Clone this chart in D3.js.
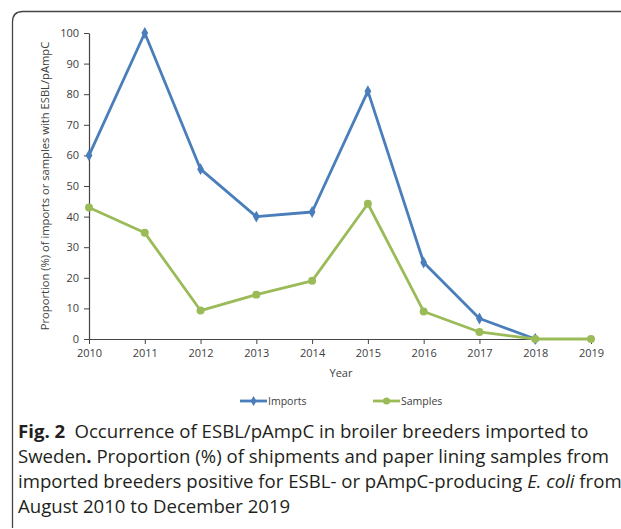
<!DOCTYPE html>
<html>
<head>
<meta charset="utf-8">
<script src="https://cdn.jsdelivr.net/npm/d3@7"></script>
<style>
  body { margin: 0; background: #fff; }
  svg { display: block; }
</style>
</head>
<body>
<svg width="621" height="529"></svg>
<script>
// years on the x axis
const years = [2010, 2011, 2012, 2013, 2014, 2015, 2016, 2017, 2018, 2019];
// proportion (%) of imports positive (no value for 2019)
const imports = [60, 100, 55.5, 40, 41.5, 81, 25, 6.7, 0, null];
// proportion (%) of samples positive
const samples = [43, 34.7, 9.3, 14.5, 19, 44.2, 9, 2.3, 0, 0];
const yTicks = [0, 10, 20, 30, 40, 50, 60, 70, 80, 90, 100];

const blue = "#4a7ebb", green = "#9bbb59";
const svg = d3.select("svg");

// frame round the figure
svg.append("path")
    .attr("d", "M12.5,528 L12.5,22 Q12.5,11.5 23,11.5 L621,11.5")
    .attr("fill", "none")
    .attr("stroke", "#444")
    .attr("stroke-width", 1.3);

const x = d3.scalePoint().domain(years).range([89, 591]);
const y = d3.scaleLinear().domain([0, 100]).range([339, 33]);

const font = "'Open Sans', sans-serif";
const grey = "#404040";

// y axis
const yAxis = svg.append("g")
    .attr("transform", "translate(89,0)")
    .call(d3.axisLeft(y).tickValues(yTicks).tickSize(5).tickSizeOuter(0));
yAxis.select(".domain").attr("stroke", "#444").attr("stroke-width", 1.2);
yAxis.selectAll("line").attr("stroke", "#444");
yAxis.selectAll("text").attr("font-family", font).attr("font-size", "11px").attr("fill", grey).attr("x", -10);

// x axis
const xAxis = svg.append("g")
    .attr("transform", "translate(0,339)")
    .call(d3.axisBottom(x).tickSize(5).tickSizeOuter(0));
xAxis.select(".domain").attr("stroke", "#444").attr("stroke-width", 1.2);
xAxis.selectAll("line").attr("stroke", "#444");
xAxis.selectAll("text").attr("font-family", font).attr("font-size", "11px").attr("fill", grey).attr("y", 10);

// axis titles
svg.append("text")
    .attr("x", 341).attr("y", 377)
    .attr("text-anchor", "middle")
    .attr("font-family", font).attr("font-size", "11px").attr("fill", grey)
    .text("Year");
svg.append("text")
    .attr("transform", "translate(49,186) rotate(-90)")
    .attr("text-anchor", "middle")
    .attr("font-family", font).attr("font-size", "11.2px").attr("fill", grey)
    .text("Proportion (%) of imports or samples with ESBL/pAmpC");

const line = d3.line()
    .defined(d => d[1] != null)
    .x(d => x(d[0]))
    .y(d => y(d[1]));

function series(vals, color, marker) {
    const pts = years.map((yr, i) => [yr, vals[i]]);
    svg.append("path")
        .datum(pts)
        .attr("d", line)
        .attr("fill", "none")
        .attr("stroke", color)
        .attr("stroke-width", 2.8)
        .attr("stroke-linejoin", "round");
    svg.selectAll(null)
        .data(pts.filter(d => d[1] != null))
        .enter().append("path")
        .attr("transform", d => "translate(" + x(d[0]) + "," + y(d[1]) + ")")
        .attr("d", d3.symbol().type(marker).size(marker === d3.symbolCircle ? 50 : 40))
        .attr("fill", color);
}
series(imports, blue, d3.symbolDiamond);
series(samples, green, d3.symbolCircle);

// legend
const legend = [["Imports", blue, d3.symbolDiamond, 240], ["Samples", green, d3.symbolCircle, 373]];
legend.forEach(l => {
    const g = svg.append("g").attr("transform", "translate(" + l[3] + ",401)");
    g.append("line").attr("x1", 0).attr("x2", 27).attr("stroke", l[1]).attr("stroke-width", 2.8);
    g.append("path").attr("transform", "translate(13.5,0)")
        .attr("d", d3.symbol().type(l[2]).size(l[2] === d3.symbolCircle ? 40 : 30))
        .attr("fill", l[1]);
    g.append("text").attr("x", 28).attr("y", 4)
        .attr("font-family", font).attr("font-size", "10.5px").attr("fill", grey)
        .text(l[0]);
});

// caption
const cap = svg.append("text")
    .attr("font-family", font).attr("font-size", "18.6px").attr("fill", "#231f20");
const l1 = cap.append("tspan").attr("x", 18).attr("y", 438);
l1.append("tspan").attr("font-weight", "bold").text("Fig. 2");
l1.append("tspan").text("\u2002Occurrence of ESBL/pAmpC in broiler breeders imported to");
const l2 = cap.append("tspan").attr("x", 18).attr("y", 463);
l2.append("tspan").text("Sweden");
l2.append("tspan").attr("font-weight", "bold").text(".");
l2.append("tspan").text(" Proportion (%) of shipments and paper lining samples from");
const l3 = cap.append("tspan").attr("x", 18).attr("y", 488);
l3.append("tspan").text("imported breeders positive for ESBL- or pAmpC-producing ");
l3.append("tspan").attr("font-style", "italic").text("E. coli");
l3.append("tspan").text(" from");
cap.append("tspan").attr("x", 18).attr("y", 513).text("August 2010 to December 2019");
</script>
</body>
</html>
